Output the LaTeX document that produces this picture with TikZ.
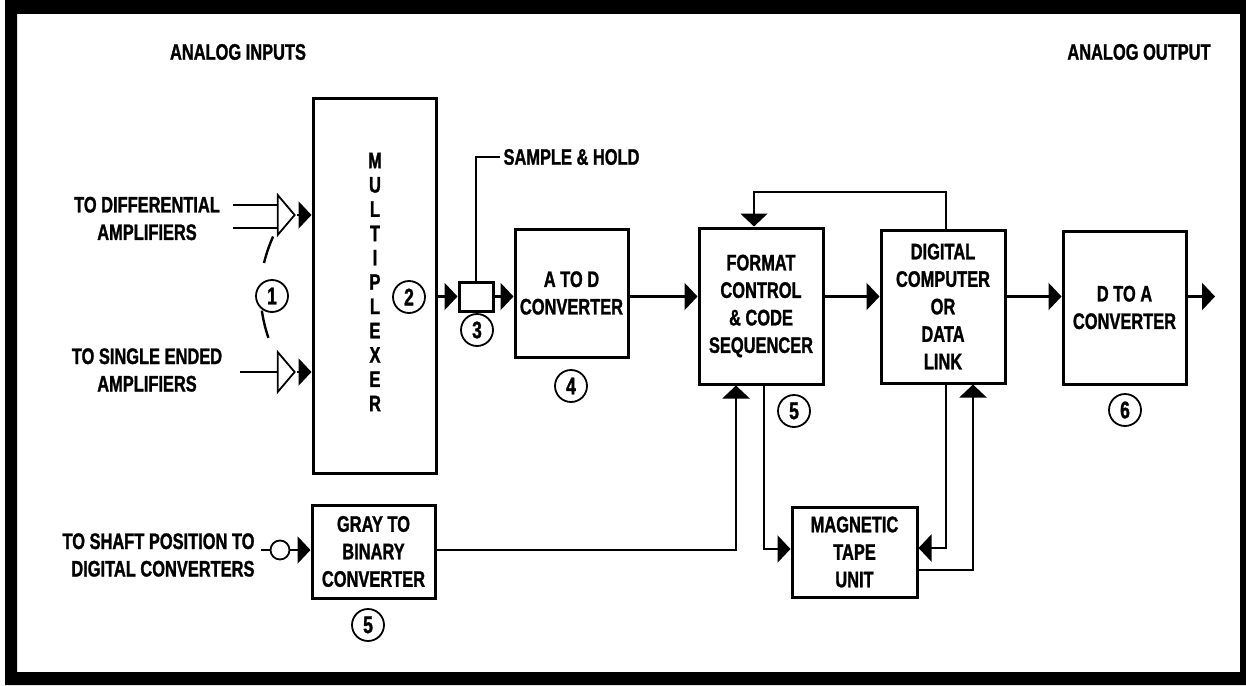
\documentclass[tikz,border=0pt]{standalone}
\usepackage{fontspec}
\setmainfont{Liberation Sans}[FakeStretch=0.73,BoldFeatures={FakeBold=1.2}]
\usepackage{tikz}
\usetikzlibrary{arrows.meta,shapes.geometric}
\newcommand{\boxline}{3pt}
\newcommand{\wireline}{2.4pt}
\newcommand{\ringline}{1.8pt}
\newcommand{\tiplength}{13pt}
\newcommand{\tipwidth}{27pt}

\begin{document}
\begin{tikzpicture}[x=1pt,y=-1pt,
every node/.style={font=\bfseries\fontsize{22.5}{27.5}\selectfont},
block/.style={draw,line width=\boxline,align=center,inner sep=0pt},
ring/.style={draw,circle,fill=white,line width=\ringline,minimum size=32pt,inner sep=0pt,font=\bfseries\fontsize{24}{24}\selectfont},
amp/.style={draw,isosceles triangle,isosceles triangle stretches,line width=\ringline,minimum width=40pt,minimum height=17pt,inner sep=0pt,anchor=apex},
wire/.style={line width=\wireline},
flow/.style={line width=\wireline,-{Triangle[length=\tiplength,width=\tipwidth]}}]
\useasboundingbox (0,0) rectangle (1246,685);
%frame
\fill[even odd rule] (5,0) rectangle (1246,685) (17,14) rectangle (1240,672);
%blocks
\node[block,minimum width=123pt,minimum height=375pt] (mux) at (374.5, 285.5) {};
\node[align=center,font=\bfseries\fontsize{22.5}{24.3}\selectfont] (muxtxt) at (375, 282) {M\\U\\L\\T\\I\\P\\L\\E\\X\\E\\R};
\node[block,minimum width=34pt,minimum height=29pt] (sh) at (476, 296.5) {};
\node[block,minimum width=113pt,minimum height=128pt] (atod) at (571.5, 293) {A TO D\\CONVERTER};
\node[block,minimum width=124pt,minimum height=156pt] (fmt) at (761, 306) {FORMAT\\CONTROL\\\& CODE\\SEQUENCER};
\node[block,minimum width=124pt,minimum height=153pt] (dig) at (943, 306.5) {DIGITAL\\COMPUTER\\OR\\DATA\\LINK};
\node[block,minimum width=123pt,minimum height=153pt] (dtoa) at (1124.5, 307.5) {D TO A\\CONVERTER};
\node[block,minimum width=125pt,minimum height=90pt] (tape) at (854.5, 552) {MAGNETIC\\TAPE\\UNIT};
\node[block,minimum width=123pt,minimum height=93pt] (gray) at (373.5, 551.5) {GRAY TO\\BINARY\\CONVERTER};
%labels
\node (anin) at (238, 52) {ANALOG INPUTS};
\node (anout) at (1139, 52) {ANALOG OUTPUT};
\node[align=center] (difftxt) at (147, 218.5) {TO DIFFERENTIAL\\AMPLIFIERS};
\node[align=center] (singtxt) at (147, 370) {TO SINGLE ENDED\\AMPLIFIERS};
\node[align=right,anchor=east] (shafttxt) at (258, 555) {TO SHAFT POSITION TO\\DIGITAL CONVERTERS};
\node[anchor=west] (shtxt) at (500, 157) {SAMPLE \& HOLD};
%amplifiers
\node[amp] (ampA) at (297, 215) {};
\node[amp] (ampB) at (297, 372) {};
\node[draw,circle,line width=\ringline,minimum size=19pt,inner sep=0pt] (shaft) at (280, 550) {};
\coordinate (dA1) at (233, 205);
\coordinate (dA2) at (233, 228);
\coordinate (sB) at (240, 372);
\coordinate (sC) at (261, 550);
\draw[wire] (dA1) -- (dA1 -| ampA.west);
\draw[wire] (dA2) -- (dA2 -| ampA.west);
\draw[wire] (sB) -- (ampB.west);
\draw[wire] (sC) -- (shaft.west);
\draw[flow] (ampA.apex) -- (ampA.apex -| mux.west);
\draw[flow] (ampB.apex) -- (ampB.apex -| mux.west);
\draw[flow] (shaft.east) -- (shaft.east -| gray.west);
\draw[wire,dash pattern=on 28pt off 48pt,shorten <=9pt,shorten >=4pt] (ampA.south -| ampA.west) to[bend right=24] (ampB.north -| ampB.west);
%main row
\draw[flow] (sh.west -| mux.east) -- (sh.west);
\draw[flow] (sh.east) -- (sh.east -| atod.west);
\draw[flow] (sh.east -| atod.east) -- (sh.east -| fmt.west);
\draw[flow] (sh.east -| fmt.east) -- (sh.east -| dig.west);
\draw[flow] (sh.east -| dig.east) -- (sh.east -| dtoa.west);
\coordinate (out) at (1215, 296.5);
\draw[flow] (out -| dtoa.east) -- (out);
\draw[wire] (sh.north) |- (shtxt.west);
%feedback
\coordinate (fb1) at (946, 192);
\coordinate (fb2) at (754, 192);
\draw[flow] (fb1 |- dig.north) -- (fb1) -- (fb2) -- (fb2 |- fmt.north);
%bottom loops
\coordinate (gb) at (736, 550);
\coordinate (ft) at (764, 549);
\coordinate (dt) at (946, 548);
\coordinate (td) at (973, 570);
\draw[flow] (gray.east |- gb) -- (gb) -- (gb |- fmt.south);
\draw[flow] (ft |- fmt.south) -- (ft) -- (ft -| tape.west);
\draw[flow] (dt |- dig.south) -- (dt) -- (dt -| tape.east);
\draw[flow] (td -| tape.east) -- (td) -- (td |- dig.south);
%numbers
\node[ring] (n1) at (272, 296) {1};
\node[ring] (n2) at (409, 297) {2};
\node[ring] (n3) at (477, 330) {3};
\node[ring] (n4) at (571, 386) {4};
\node[ring] (n5) at (794, 411) {5};
\node[ring] (n6) at (1125, 410) {6};
\node[ring] (n5b) at (368, 625) {5};
\end{tikzpicture}
\end{document}
